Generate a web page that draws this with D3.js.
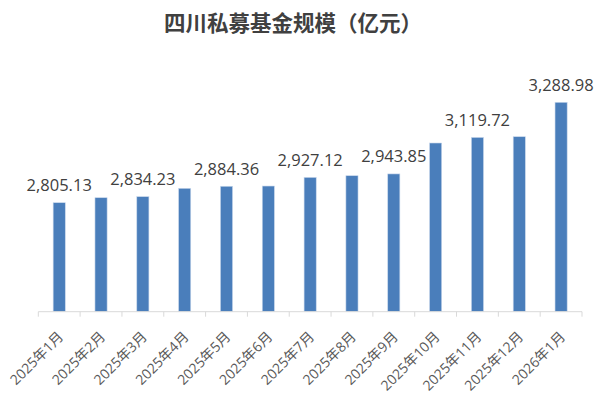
<!DOCTYPE html>
<html>
<head>
<meta charset="utf-8">
<script src="https://cdn.jsdelivr.net/npm/d3@7"></script>
<style>
  body { margin: 0; background: #fff; }
  svg { display: block; }
</style>
</head>
<body>
<div id="chart"></div>
<script>
// chart data
var months = ["2025年1月", "2025年2月", "2025年3月", "2025年4月", "2025年5月", "2025年6月",
  "2025年7月", "2025年8月", "2025年9月", "2025年10月", "2025年11月", "2025年12月", "2026年1月"];
var scale = [2805.13, 2829.2, 2834.23, 2874.5, 2884.36, 2885.5,
  2927.12, 2935.2, 2943.85, 3092.8, 3119.72, 3123.1, 3288.98];
// only every other bar carries a label
var labelled = [true, false, true, false, true, false, true, false, true, false, true, false, true];

var W = 602, H = 395;
var margin = { top: 100, right: 20, bottom: 83.3, left: 38.3 },
    width = 582 - margin.left,
    height = H - margin.top - margin.bottom;

var svg = d3.select("#chart")
    .append("svg")
    .attr("width", W)
    .attr("height", H);

// title
svg.append("text")
    .attr("x", 293)
    .attr("y", 31)
    .attr("text-anchor", "middle")
    .attr("font-family", "'Noto Sans CJK SC', sans-serif")
    .attr("font-weight", "bold")
    .attr("font-size", 21.5)
    .attr("fill", "#404040")
    .text("四川私募基金规模（亿元）");

var g = svg.append("g")
    .attr("transform", "translate(" + margin.left + "," + margin.top + ")");

var x = d3.scaleBand()
    .domain(months)
    .range([0, width])
    .paddingInner(0.71)
    .paddingOuter(0.355);

var y = d3.scaleLinear()
    .domain([2280, 3300])
    .range([height, 0]);

// bars
g.selectAll("rect.bar")
    .data(scale)
    .enter()
    .append("rect")
    .attr("class", "bar")
    .attr("x", function (d, i) { return x(months[i]) })
    .attr("y", function (d) { return y(d) })
    .attr("width", x.bandwidth())
    .attr("height", function (d) { return height - y(d) })
    .attr("fill", "#4a7ebb")
    .attr("stroke", "#c9d8ec")
    .attr("stroke-width", 0.6);

// value labels
g.selectAll("text.val")
    .data(scale.filter(function (d, i) { return labelled[i] }))
    .enter()
    .append("text")
    .attr("class", "val")
    .attr("x", function (d) { var i = scale.indexOf(d); return x(months[i]) + x.bandwidth() / 2 })
    .attr("y", function (d) { return y(d) - 11.5 })
    .attr("text-anchor", "middle")
    .attr("font-family", "'Open Sans', sans-serif")
    .attr("font-size", 16.5)
    .attr("fill", "#404040")
    .text(function (d) { return d3.format(",.2f")(d) });

// x axis with ticks on band edges
var xAxis = g.append("g")
    .attr("transform", "translate(0," + height + ")");
xAxis.append("line")
    .attr("x1", 0).attr("x2", width)
    .attr("stroke", "#d9d9d9");
var step = x.step();
xAxis.selectAll("line.tick")
    .data(d3.range(months.length + 1))
    .enter()
    .append("line")
    .attr("class", "tick")
    .attr("x1", function (d) { return d * step })
    .attr("x2", function (d) { return d * step })
    .attr("y1", 0).attr("y2", 5)
    .attr("stroke", "#d9d9d9");

xAxis.selectAll("text")
    .data(months)
    .enter()
    .append("text")
    .attr("transform", function (d) {
        return "translate(" + (x(d) + x.bandwidth() / 2 + 5) + ",26) rotate(-45)";
    })
    .attr("text-anchor", "end")
    .attr("font-family", "'Open Sans', 'Noto Sans CJK SC', sans-serif")
    .attr("font-size", 14)
    .attr("fill", "#595959")
    .text(function (d) { return d });
</script>
</body>
</html>
